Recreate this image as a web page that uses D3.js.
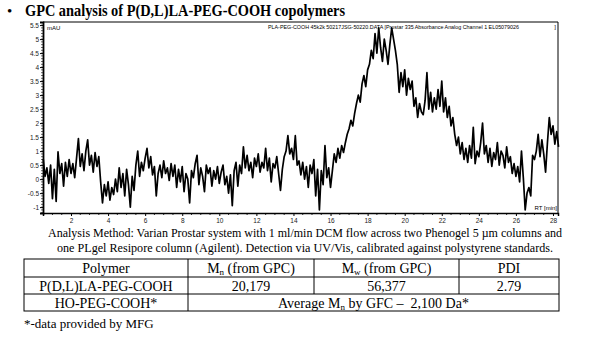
<!DOCTYPE html>
<html>
<head>
<meta charset="utf-8">
<script src="https://cdn.jsdelivr.net/npm/d3@7"></script>
<style>
  html, body { margin: 0; padding: 0; background: #fff; }
  svg { display: block; }
</style>
</head>
<body>
<svg id="chart" width="598" height="338"></svg>
<script>
// Retention time grid of the detector trace (minutes)
const rtStart = 0.5;
const rtStep = 0.1;

// Absorbance (mAU) sampled every 0.1 min from 0.5 to 28.3 min
const absorbance = [
  0.72, 0.1, 0.4, -0.15, 0.5, -0.7, 0.35, -0.8, 0.97, 0.2,
  0.55, -0.25, 0.6, 0.1, 0.7, 0.2, 0.55, 0.05, 0.75, 1.45,
  0.45, 0.9, 0.3, 1.0, 1.4, 0.5, 0.85, 0.25, 0.95, 0.45,
  0.8, -0.1, -0.85, -0.2, -0.6, -0.1, -0.75, -0.3, -0.55, 0.0,
  -0.45, 0.4, -0.3, 0.2, -0.6, 0.35, -0.2, -1.0, 0.1, -0.4,
  0.5, 1.0, 0.1, 0.6, 0.3, 0.75, 1.1, 0.4, 0.8, 0.15,
  0.45, -0.6, 0.2, 0.5, 0.05, 0.65, 0.2, 0.4, -0.05, 0.55,
  0.1, 0.5, -0.3, 0.35, -0.1, 0.45, -0.45, 0.2, 0.0, -0.85,
  0.3, 0.05, 0.55, 0.85, -0.2, 0.4, 0.1, -0.45, 0.5, 0.2,
  0.4, -0.25, 0.3, 0.0, 0.45, -0.15, 0.25, 0.5, -0.2, 0.1,
  -0.5, 0.15, -0.95, 0.3, 0.6, -0.25, 0.5, 0.2, 1.15, 0.4,
  0.85, 0.3, 0.6, 0.05, 0.75, 0.45, 0.9, 0.25, 0.6, 0.4,
  1.1, 0.3, 0.75, -0.1, 0.55, 0.4, 0.8, 0.2, -0.4, 0.35,
  0.8, 1.0, 1.55, 0.9, 1.1, 0.7, 1.55, 0.5, 0.65, 0.15,
  0.6, 0.0, 0.45, -0.3, 0.5, 0.2, 0.7, -0.6, 0.35, -1.1,
  0.3, -0.2, 1.2, 0.05, 0.4, -0.3, 0.3, 0.9, 0.6, 1.1,
  0.75, 1.2, 0.95, 1.3, 1.6, 1.8, 2.1, 1.9, 2.35, 2.7,
  3.0, 2.75, 3.4, 3.7, 3.3, 3.9, 4.1, 4.6, 4.3, 5.2,
  4.5, 5.4, 4.7, 4.2, 5.0, 4.6, 4.1, 4.8, 5.4, 5.0,
  4.6, 4.1, 3.1, 3.8, 3.3, 3.9, 3.0, 3.6, 3.2, 3.5,
  2.6, 2.9, 2.2, 2.7, 2.4, 2.3, 2.8, 3.8, 2.5, 3.1,
  2.4, 2.9, 2.5, 3.2, 2.6, 3.5, 2.4, 2.9, 2.2, 2.6,
  1.9, 2.2, 1.6, 1.2, 1.5, 0.9, 1.3, 0.7, 1.1, 0.6,
  1.2, 0.75, 1.85, 0.55, 1.0, 0.8, 1.3, 2.0, 0.9, 1.2,
  0.6, 1.1, 0.45, 0.95, 0.7, 1.3, 0.5, 1.0, 0.85, 0.4,
  1.15, 0.6, 0.8, 0.2, 0.55, 0.1, 0.45, -0.1, 1.0, 0.05,
  -1.1, -0.5, -0.3, -0.6, 0.85, 0.7, 1.0, 1.6, 0.8, 1.4,
  0.9, 0.25, 1.3, 2.2, 1.6, 1.9, 1.25, 1.7, 1.15
];

// Axis ticks
const xTickValues = [2, 4, 6, 8, 10, 12, 14, 16, 18, 20, 22, 24, 26, 28];
const yTickValues = [-1, -0.5, 0, 0.5, 1, 1.5, 2, 2.5, 3, 3.5, 4, 4.5, 5, 5.5];

// Texts
const titleText = "GPC analysis of P(D,L)LA-PEG-COOH copolymers";
const headerText = "PLA-PEG-COOH 45k2k 50217JSG-50220.DATA [Prostar 335 Absorbance Analog Channel 1 EL05079026";
const captionLines = [
  "Analysis Method: Varian Prostar system with 1 ml/min DCM flow across two Phenogel 5 µm columns and",
  "one PLgel Resipore column (Agilent). Detection via UV/Vis, calibrated against polystyrene standards."
];
const tableHeader = ["Polymer", ["M", "n", " (from GPC)"], ["M", "w", " (from GPC)"], "PDI"];
const tableRow1 = ["P(D,L)LA-PEG-COOH", "20,179", "56,377", "2.79"];
const tableRow2Label = "HO-PEG-COOH*";
const tableRow2Note = ["Average M", "n", " by GFC \u2013\u00a0 2,100 Da*"];
const footnote = "*-data provided by MFG";

const svg = d3.select("#chart");
svg.append("rect").attr("width", 598).attr("height", 338).attr("fill", "#fff");

// ---- Title ----
svg.append("text").attr("x", 7).attr("y", 16)
  .attr("font-family", "Liberation Serif, serif").attr("font-size", 15)
  .text("•");
svg.append("text").attr("x", 25).attr("y", 16)
  .attr("font-family", "Liberation Serif, serif").attr("font-weight", "bold")
  .attr("font-size", 16)
  .attr("textLength", 320).attr("lengthAdjust", "spacingAndGlyphs")
  .text(titleText);

// ---- Chromatogram ----
const plot = { left: 43, right: 558, top: 22, bottom: 213 };
const x = d3.scaleLinear().domain([0.49, 28.27]).range([plot.left, plot.right]);
const y = d3.scaleLinear().domain([-1.21, 5.61]).range([plot.bottom, plot.top]);

const g = svg.append("g");

// frame (top and right edges)
g.append("path")
  .attr("d", `M${plot.left},${plot.top}H${plot.right}V${plot.bottom}`)
  .attr("fill", "none").attr("stroke", "#000").attr("stroke-width", 1);

const axisFont = "Liberation Sans, Arial, sans-serif";

// x axis
const xAxis = d3.axisBottom(x).tickValues(xTickValues).tickSize(3).tickPadding(2)
  .tickFormat(d3.format("d"));
const gx = g.append("g").attr("transform", `translate(0,${plot.bottom})`).call(xAxis);
gx.select(".domain").attr("stroke-width", 1.5);
gx.selectAll("text").attr("font-family", axisFont).attr("font-size", 6.5).attr("fill", "#222");
const xMinor = d3.range(1, 28.3, 0.5).filter(v => !xTickValues.includes(v));
gx.selectAll(".minor").data(xMinor).enter().append("line")
  .attr("class", "minor")
  .attr("x1", d => x(d)).attr("x2", d => x(d))
  .attr("y1", 0).attr("y2", 2).attr("stroke", "#000").attr("stroke-width", 0.8);

// y axis
const yAxis = d3.axisLeft(y).tickValues(yTickValues).tickSize(3).tickPadding(1)
  .tickFormat(d => String(d));
const gy = g.append("g").attr("transform", `translate(${plot.left},0)`).call(yAxis);
gy.select(".domain").attr("stroke-width", 1.8);
gy.selectAll("text").attr("font-family", axisFont).attr("font-size", 6.5).attr("fill", "#222");
const yMinor = d3.range(-12, 56).map(v => v / 10);
gy.selectAll(".minor").data(yMinor).enter().append("line")
  .attr("class", "minor")
  .attr("x1", -2).attr("x2", 0)
  .attr("y1", d => y(d)).attr("y2", d => y(d))
  .attr("stroke", "#000").attr("stroke-width", 0.6);

// axis units
g.append("text").attr("x", 47).attr("y", 29.5)
  .attr("font-family", axisFont).attr("font-size", 6).text("mAU");
g.append("text").attr("x", 557).attr("y", 210).attr("text-anchor", "end")
  .attr("font-family", axisFont).attr("font-size", 6).text("RT [min]");

// header
g.append("text").attr("x", 268).attr("y", 29)
  .attr("font-family", axisFont).attr("font-size", 5.6)
  .attr("textLength", 251).attr("lengthAdjust", "spacingAndGlyphs")
  .text(headerText);
g.append("text").attr("x", 555).attr("y", 29).attr("text-anchor", "middle")
  .attr("font-family", axisFont).attr("font-size", 6).text("]");

// trace
const line = d3.line()
  .x((d, i) => x(rtStart + i * rtStep))
  .y(d => y(d));
g.append("path").datum(absorbance)
  .attr("d", line).attr("fill", "none")
  .attr("stroke", "#000").attr("stroke-width", 1.7).attr("stroke-linejoin", "round");

// ---- Caption ----
const serif = "Liberation Serif, Times New Roman, serif";
svg.append("text").attr("x", 305).attr("y", 237).attr("text-anchor", "middle")
  .attr("font-family", serif).attr("font-size", 12)
  .attr("textLength", 514).attr("lengthAdjust", "spacingAndGlyphs")
  .text(captionLines[0]);
svg.append("text").attr("x", 305).attr("y", 252).attr("text-anchor", "middle")
  .attr("font-family", serif).attr("font-size", 12)
  .attr("textLength", 496).attr("lengthAdjust", "spacingAndGlyphs")
  .text(captionLines[1]);

// ---- Table ----
const colEdges = [24, 188, 314, 459, 559];
const rowEdges = [259, 277, 294, 311];
const tbl = svg.append("g").attr("font-family", serif).attr("font-size", 14);

tbl.append("rect").attr("x", colEdges[0]).attr("y", rowEdges[0])
  .attr("width", colEdges[4] - colEdges[0]).attr("height", rowEdges[3] - rowEdges[0])
  .attr("fill", "none").attr("stroke", "#000").attr("stroke-width", 1);
rowEdges.slice(1, 3).forEach(yy => {
  tbl.append("line").attr("x1", colEdges[0]).attr("x2", colEdges[4])
    .attr("y1", yy).attr("y2", yy).attr("stroke", "#000");
});
colEdges.slice(1, 4).forEach((xx, i) => {
  tbl.append("line").attr("x1", xx).attr("x2", xx)
    .attr("y1", rowEdges[0]).attr("y2", i === 0 ? rowEdges[3] : rowEdges[2])
    .attr("stroke", "#000");
});

function cellText(parent, cx, baseline, content) {
  const t = parent.append("text").attr("x", cx).attr("y", baseline).attr("text-anchor", "middle");
  if (typeof content === "string") {
    t.text(content);
  } else {
    t.append("tspan").text(content[0]);
    t.append("tspan").attr("font-size", 9).attr("dy", 2).text(content[1]);
    t.append("tspan").attr("dy", -2).text(content[2]);
  }
}
const mids = colEdges.slice(0, 4).map((c, i) => (c + colEdges[i + 1]) / 2);
tableHeader.forEach((c, i) => cellText(tbl, mids[i], 273, c));
tableRow1.forEach((c, i) => cellText(tbl, mids[i], 290.5, c));
cellText(tbl, mids[0], 307.5, tableRow2Label);
cellText(tbl, (colEdges[1] + colEdges[4]) / 2, 307.5, tableRow2Note);

svg.append("text").attr("x", 24).attr("y", 328)
  .attr("font-family", serif).attr("font-size", 13).text(footnote);
</script>
</body>
</html>
